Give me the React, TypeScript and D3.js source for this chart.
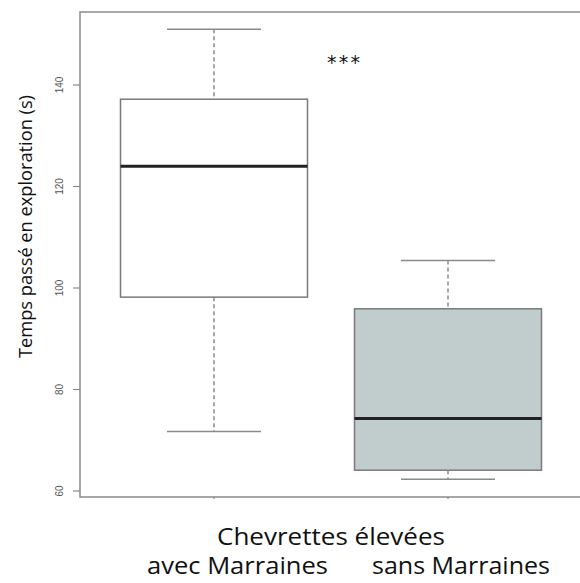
import { scaleLinear } from "d3";

const groups = ["avec Marraines", "sans Marraines"];
const whiskerLow = [71.7, 62.3];
const q1 = [98.2, 64.1];
const median = [124, 74.3];
const q3 = [137.2, 95.9];
const whiskerHigh = [151, 105.4];
const fills = ["#ffffff", "#c1cdcd"];
const yTicks = [60, 80, 100, 120, 140];

export default function App() {
  const width = 580;
  const height = 583;
  const frame = { left: 80, top: 12, right: 582, bottom: 497 };

  const y = scaleLinear().domain([60, 140]).range([491, 85]);
  const x = scaleLinear().domain([0, 1]).range([214, 448]);
  const boxHalf = 93.5;
  const capHalf = 47;
  const labelFont = "'Open Sans', 'Noto Sans', sans-serif";

  return (
    <svg
      width={width}
      height={height}
      style={{ position: "absolute", left: 0, top: 0, background: "#fff" }}
      fontFamily={labelFont}
    >
      {/* boxes */}
      {groups.map((g, i) => {
        const cx = x(i);
        return (
          <g key={g}>
            <line x1={cx} x2={cx} y1={y(whiskerHigh[i])} y2={y(q3[i])} stroke="#8a8a8a" strokeWidth={1.5} strokeDasharray="4,3" />
            <line x1={cx} x2={cx} y1={y(q1[i])} y2={y(whiskerLow[i])} stroke="#8a8a8a" strokeWidth={1.5} strokeDasharray="4,3" />
            <line x1={cx - capHalf} x2={cx + capHalf} y1={y(whiskerHigh[i])} y2={y(whiskerHigh[i])} stroke="#8a8a8a" strokeWidth={1.5} />
            <line x1={cx - capHalf} x2={cx + capHalf} y1={y(whiskerLow[i])} y2={y(whiskerLow[i])} stroke="#8a8a8a" strokeWidth={1.5} />
            <rect
              x={cx - boxHalf}
              y={y(q3[i])}
              width={boxHalf * 2}
              height={y(q1[i]) - y(q3[i])}
              fill={fills[i]}
              stroke="#7a7a7a"
              strokeWidth={1.5}
            />
            <line x1={cx - boxHalf} x2={cx + boxHalf} y1={y(median[i])} y2={y(median[i])} stroke="#222" strokeWidth={3} />
          </g>
        );
      })}

      {/* frame */}
      <rect
        x={frame.left}
        y={frame.top}
        width={frame.right - frame.left}
        height={frame.bottom - frame.top}
        fill="none"
        stroke="#8a8a8a"
        strokeWidth={1.5}
      />

      {/* y axis */}
      {yTicks.map((t) => (
        <g key={t}>
          <line x1={73} x2={frame.left} y1={y(t)} y2={y(t)} stroke="#8a8a8a" strokeWidth={1.2} />
          <text
            transform={`translate(63,${y(t)}) rotate(-90)`}
            textAnchor="middle"
            fontSize={10}
            fill="#555"
            fontFamily="'Liberation Sans', Arial, sans-serif"
          >
            {t}
          </text>
        </g>
      ))}
      {groups.map((g, i) => (
        <line key={g} x1={x(i)} x2={x(i)} y1={frame.bottom} y2={frame.bottom + 2} stroke="#8a8a8a" strokeWidth={1.2} />
      ))}

      <text
        transform={`translate(32,226.5) rotate(-90)`}
        textAnchor="middle"
        fontSize={18}
        fill="#111"
        textLength={263}
        lengthAdjust="spacingAndGlyphs"
      >
        Temps passé en exploration (s)
      </text>

      <text
        x={343.5}
        y={69}
        textAnchor="middle"
        fontSize={19}
        fill="#111"
        textLength={33}
        lengthAdjust="spacing"
        fontFamily="'DejaVu Sans', sans-serif"
      >
        ***
      </text>

      <text x={331} y={545} textAnchor="middle" fontSize={23} fill="#111" textLength={228} lengthAdjust="spacingAndGlyphs">
        Chevrettes élevées
      </text>
      <text x={237.5} y={574} textAnchor="middle" fontSize={23} fill="#111" textLength={181} lengthAdjust="spacingAndGlyphs">
        {groups[0]}
      </text>
      <text x={461} y={574} textAnchor="middle" fontSize={23} fill="#111" textLength={178} lengthAdjust="spacingAndGlyphs">
        {groups[1]}
      </text>
    </svg>
  );
}
